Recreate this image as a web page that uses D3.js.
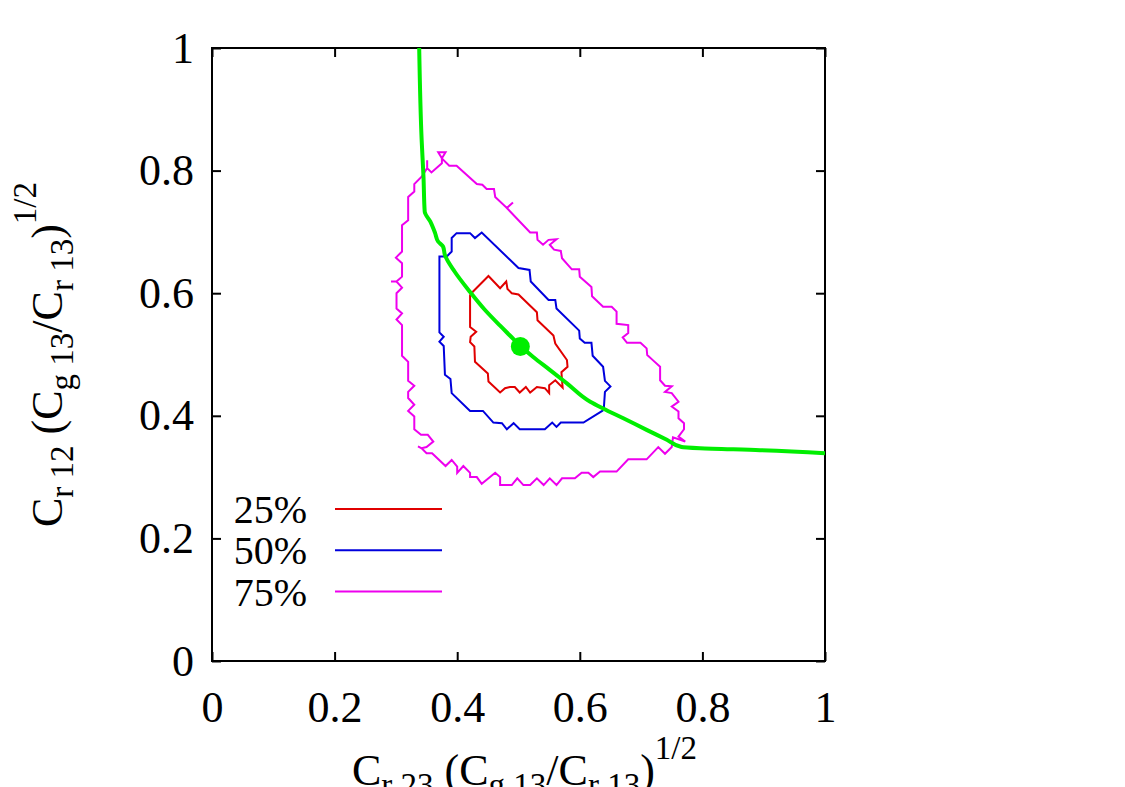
<!DOCTYPE html>
<html>
<head>
<meta charset="utf-8">
<script src="https://cdn.jsdelivr.net/npm/d3@7/dist/d3.min.js"></script>
<style>
  html, body { margin: 0; padding: 0; background: #fff; }
  svg { display: block; }
</style>
</head>
<body>
<svg id="chart" width="1125" height="787"></svg>
<script>
// ---------------- data ----------------
const tickValues = [0, 0.2, 0.4, 0.6, 0.8, 1];
const tickLabels = ["0", "0.2", "0.4", "0.6", "0.8", "1"];

const legendLabels = ["25%", "50%", "75%"];
const seriesColors = ["#e00000", "#0000dd", "#ee00ee"];

// 25% contour
const contour25 = [
  [0.421,0.598],[0.451,0.628],[0.470,0.608],[0.480,0.619],[0.482,0.607],[0.489,0.600],
  [0.500,0.598],[0.530,0.569],[0.531,0.556],[0.557,0.531],[0.560,0.518],[0.579,0.491],
  [0.580,0.480],[0.570,0.471],[0.572,0.446],[0.560,0.458],[0.550,0.450],[0.550,0.437],
  [0.543,0.445],[0.530,0.447],[0.519,0.438],[0.512,0.447],[0.502,0.438],[0.494,0.447],
  [0.486,0.447],[0.478,0.445],[0.470,0.438],[0.451,0.456],[0.450,0.469],[0.429,0.488],
  [0.428,0.513],[0.421,0.520],[0.422,0.529],[0.431,0.537],[0.421,0.545],[0.421,0.598]
];

// 50% contour
const contour50 = [
  [0.638,0.409],[0.606,0.389],[0.569,0.389],[0.562,0.382],[0.555,0.389],[0.543,0.378],
  [0.502,0.378],[0.492,0.388],[0.481,0.378],[0.473,0.388],[0.459,0.389],[0.442,0.408],
  [0.421,0.408],[0.391,0.437],[0.389,0.460],[0.380,0.467],[0.378,0.514],[0.371,0.521],
  [0.378,0.529],[0.371,0.536],[0.371,0.660],[0.383,0.660],[0.391,0.668],[0.391,0.690],
  [0.399,0.698],[0.421,0.698],[0.429,0.690],[0.440,0.699],[0.500,0.641],[0.518,0.638],
  [0.520,0.619],[0.549,0.589],[0.560,0.589],[0.562,0.575],[0.599,0.539],[0.600,0.526],
  [0.608,0.519],[0.619,0.519],[0.621,0.498],[0.638,0.480],[0.641,0.457],[0.650,0.448],
  [0.641,0.439],[0.639,0.409]
];

// 75% contour
const contour75 = [
  [0.375,0.820],[0.369,0.830],[0.381,0.830],[0.375,0.820],[0.387,0.808],[0.399,0.808],
  [0.432,0.778],[0.441,0.777],[0.448,0.770],[0.460,0.770],[0.462,0.757],[0.481,0.739],
  [0.491,0.748],[0.481,0.739],[0.519,0.699],[0.530,0.699],[0.531,0.687],[0.540,0.679],
  [0.549,0.687],[0.562,0.688],[0.551,0.679],[0.558,0.671],[0.569,0.669],[0.571,0.657],
  [0.587,0.639],[0.599,0.639],[0.600,0.627],[0.619,0.610],[0.620,0.595],[0.638,0.578],
  [0.652,0.578],[0.660,0.570],[0.660,0.550],[0.679,0.548],[0.679,0.535],[0.670,0.528],
  [0.677,0.519],[0.699,0.519],[0.709,0.510],[0.710,0.499],[0.720,0.490],[0.731,0.480],
  [0.731,0.458],[0.739,0.449],[0.750,0.448],[0.739,0.439],[0.750,0.437],[0.761,0.423],
  [0.750,0.415],[0.761,0.407],[0.761,0.396],[0.770,0.388],[0.770,0.378],[0.761,0.366],
  [0.772,0.358],[0.752,0.365],[0.750,0.349],[0.739,0.338],[0.728,0.349],[0.709,0.329],
  [0.679,0.329],[0.660,0.309],[0.633,0.309],[0.622,0.300],[0.614,0.307],[0.603,0.307],
  [0.592,0.298],[0.571,0.298],[0.562,0.287],[0.551,0.298],[0.541,0.287],[0.530,0.298],
  [0.519,0.287],[0.508,0.287],[0.498,0.298],[0.489,0.287],[0.470,0.287],[0.470,0.300],
  [0.462,0.307],[0.440,0.289],[0.432,0.300],[0.421,0.300],[0.421,0.307],[0.410,0.318],
  [0.400,0.307],[0.400,0.317],[0.391,0.328],[0.381,0.318],[0.359,0.339],[0.350,0.339],
  [0.342,0.347],[0.336,0.350],[0.342,0.347],[0.350,0.349],[0.361,0.358],[0.352,0.369],
  [0.341,0.369],[0.330,0.378],[0.330,0.399],[0.320,0.408],[0.330,0.418],[0.320,0.429],
  [0.320,0.439],[0.330,0.449],[0.320,0.457],[0.320,0.488],[0.310,0.498],[0.310,0.548],
  [0.301,0.557],[0.310,0.567],[0.301,0.575],[0.301,0.600],[0.310,0.609],[0.301,0.619],
  [0.292,0.619],[0.301,0.619],[0.310,0.627],[0.310,0.649],[0.300,0.658],[0.310,0.668],
  [0.310,0.711],[0.320,0.719],[0.320,0.757],[0.330,0.766],[0.330,0.778],[0.342,0.790],
  [0.351,0.804],[0.351,0.817],[0.351,0.804],[0.358,0.797],[0.375,0.812],[0.375,0.820]
];

// green curve and point
const curveX = [0.338,0.342,0.345,0.347,0.356,0.364,0.369,0.377,0.380,0.396,0.421,0.445,
                0.470,0.486,0.504,0.524,0.551,0.579,0.617,0.638,0.671,0.709,0.742,0.766,
                0.796,0.894,1.000];
const curveY = [1.000,0.850,0.790,0.733,0.717,0.698,0.684,0.676,0.662,0.635,0.602,0.573,
                0.547,0.531,0.513,0.496,0.475,0.453,0.423,0.412,0.396,0.377,0.361,0.349,
                0.347,0.344,0.339];
const bestPoint = [0.503, 0.513];

// ---------------- drawing ----------------
const svg = d3.select("#chart");
const fontFam = "'Liberation Serif','Times New Roman',Times,serif";
const W = 1125, H = 787;
const mLeft = 212, mRight = 825, mTop = 48, mBottom = 661;

svg.append("rect").attr("width", W).attr("height", H).attr("fill", "#fff");

const x = d3.scaleLinear().domain([0, 1]).range([mLeft, mRight]);
const y = d3.scaleLinear().domain([0, 1]).range([mBottom, mTop]);

const fmt = d => tickLabels[tickValues.indexOf(d)];
const tickLen = 9;

function styleAxis(g) {
  g.select(".domain").remove();
  g.selectAll(".tick line").attr("stroke", "#000").attr("stroke-width", 2);
  g.selectAll(".tick text").attr("font-family", fontFam).attr("font-size", 44).attr("fill", "#000");
}

svg.append("g").attr("transform", `translate(0,${mBottom})`)
  .call(d3.axisBottom(x).tickValues(tickValues).tickFormat(fmt).tickSize(-tickLen).tickSizeOuter(0).tickPadding(30))
  .call(styleAxis);
svg.append("g").attr("transform", `translate(0,${mTop})`)
  .call(d3.axisTop(x).tickValues(tickValues).tickFormat("").tickSize(-tickLen).tickSizeOuter(0))
  .call(styleAxis);
svg.append("g").attr("transform", `translate(${mLeft},0)`)
  .call(d3.axisLeft(y).tickValues(tickValues).tickFormat(fmt).tickSize(-tickLen).tickSizeOuter(0).tickPadding(18))
  .call(styleAxis);
svg.append("g").attr("transform", `translate(${mRight},0)`)
  .call(d3.axisRight(y).tickValues(tickValues).tickFormat("").tickSize(-tickLen).tickSizeOuter(0))
  .call(styleAxis);

svg.append("rect")
  .attr("x", mLeft).attr("y", mTop).attr("width", mRight - mLeft).attr("height", mBottom - mTop)
  .attr("fill", "none").attr("stroke", "#000").attr("stroke-width", 2);

// contours
const line = d3.line().x(d => x(d[0])).y(d => y(d[1]));
const contours = [contour25, contour50, contour75];
contours.forEach((c, i) => {
  svg.append("path").attr("d", line(c)).attr("fill", "none")
    .attr("stroke", seriesColors[i]).attr("stroke-width", 2).attr("stroke-linejoin", "miter");
});

// green curve
const curvePts = curveX.map((v, i) => [v, curveY[i]]);
svg.append("path").attr("d", d3.line().x(d => x(d[0])).y(d => y(d[1])).curve(d3.curveMonotoneY)(curvePts))
  .attr("fill", "none").attr("stroke", "#00ee00").attr("stroke-width", 4).attr("stroke-linejoin", "round");
svg.append("circle").attr("cx", x(bestPoint[0])).attr("cy", y(bestPoint[1])).attr("r", 9.5).attr("fill", "#00ee00");

// legend
legendLabels.forEach((lab, i) => {
  const ly = 509 + i * 41.3;
  svg.append("text").attr("x", 307).attr("y", ly + 14).attr("text-anchor", "end")
    .attr("font-family", fontFam).attr("font-size", 40).text(lab);
  svg.append("line").attr("x1", 335).attr("x2", 442).attr("y1", ly).attr("y2", ly)
    .attr("stroke", seriesColors[i]).attr("stroke-width", 2);
});

// axis titles with sub/superscripts
function richLabel(g, parts, mainSize, smallSize, subShift, supShift) {
  const t = g.append("text").attr("font-family", fontFam).attr("font-size", mainSize).attr("fill", "#000");
  let cur = 0;
  parts.forEach(p => {
    let target = p.sub ? subShift : (p.sup ? supShift : 0);
    t.append("tspan").attr("dy", target - cur)
      .attr("font-size", (p.sub || p.sup) ? smallSize : mainSize)
      .text(p.t);
    cur = target;
  });
  return t;
}
const xParts = [{t:"C"},{t:"r 23",sub:true},{t:" (C"},{t:"g 13",sub:true},{t:"/C"},{t:"r 13",sub:true},{t:")"},{t:"1/2",sup:true}];
const yParts = [{t:"C"},{t:"r 12",sub:true},{t:" (C"},{t:"g 13",sub:true},{t:"/C"},{t:"r 13",sub:true},{t:")"},{t:"1/2",sup:true}];

const gx = svg.append("g").attr("transform", "translate(352,785)");
richLabel(gx, xParts, 44, 33, 11, -26).attr("style", "white-space:pre");

const gy = svg.append("g").attr("transform", "translate(62,527) rotate(-90)");
richLabel(gy, yParts, 44, 33, 11, -26).attr("style", "white-space:pre");
</script>
</body>
</html>
